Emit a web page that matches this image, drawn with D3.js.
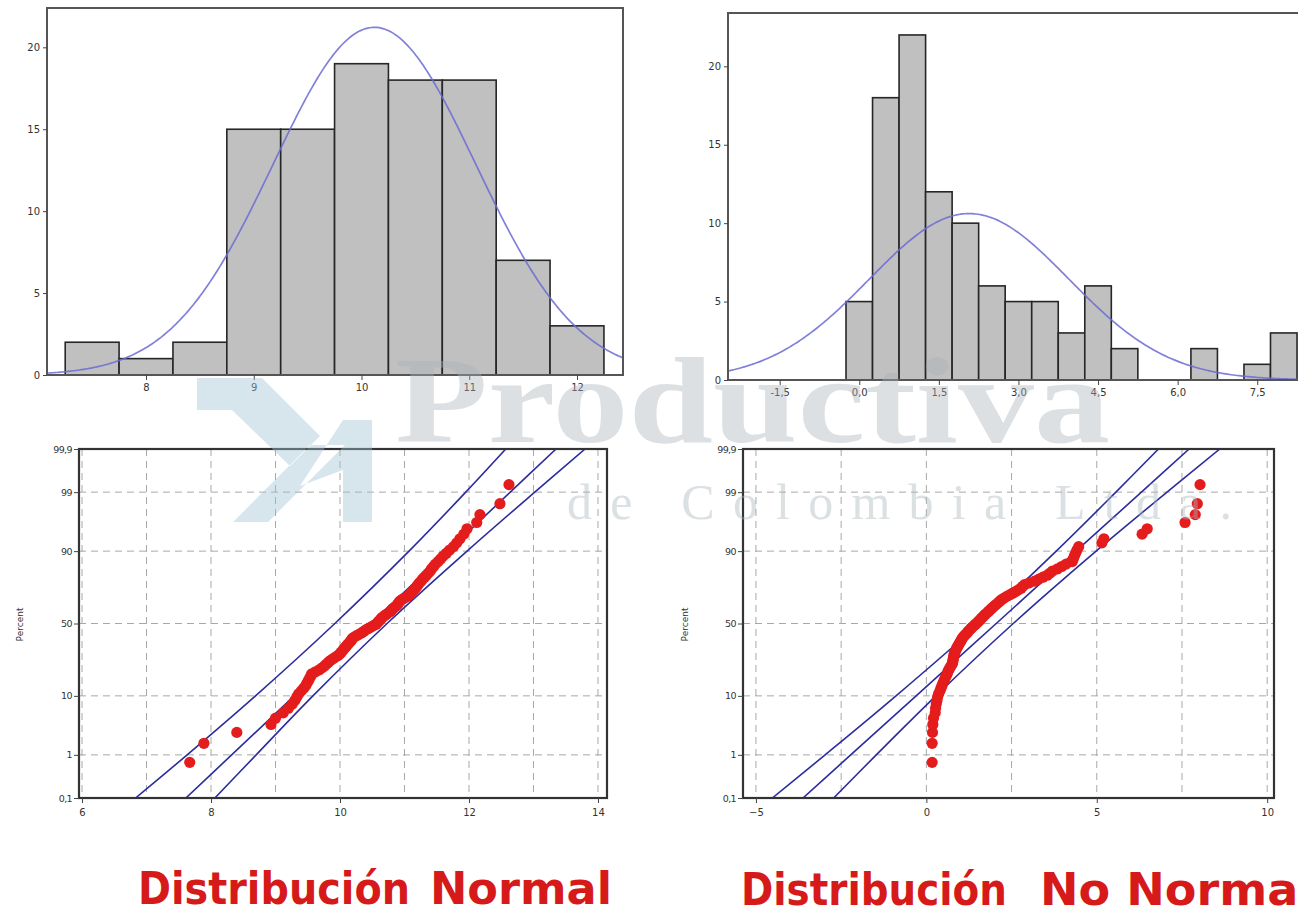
<!DOCTYPE html>
<html><head><meta charset="utf-8">
<script src="https://cdn.jsdelivr.net/npm/d3@7"></script>
<style>
body{margin:0;background:#fff}
svg{display:block}
</style>
</head><body>
<svg id="c" width="1298" height="915"></svg>
<script>
// ================= DATA =================
// Histogram 1 (normal)
const histNormalBins   = [7.5, 8.0, 8.5, 9.0, 9.5, 10.0, 10.5, 11.0, 11.5, 12.0];
const histNormalCounts = [2, 1, 2, 15, 15, 19, 18, 18, 7, 3];
const histNormalBinWidth = 0.5;
const histNormalFitMean = 10.12;
const histNormalFitSd = 0.94;
const histNormalXTicks = [8, 9, 10, 11, 12];
const histYTicks = [0, 5, 10, 15, 20];

// Histogram 2 (non normal)
const histSkewBins   = [0, 0.5, 1.0, 1.5, 2.0, 2.5, 3.0, 3.5, 4.0, 4.5, 5.0, 5.5, 6.0, 6.5, 7.0, 7.5, 8.0];
const histSkewCounts = [5, 18, 22, 12, 10, 6, 5, 5, 3, 6, 2, 0, 0, 2, 0, 1, 3];
const histSkewBinWidth = 0.5;
const histSkewFitMean = 2.07;
const histSkewFitSd = 1.88;
const histSkewXTicks = [-1.5, 0, 1.5, 3.0, 4.5, 6.0, 7.5];
const histSkewXLabels = ["-1,5", "0,0", "1,5", "3,0", "4,5", "6,0", "7,5"];

// Probability plots
const pctTicks  = [0.1, 1, 10, 50, 90, 99, 99.9];
const pctLabels = ["0,1", "1", "10", "50", "90", "99", "99,9"];
const bandPct   = [0.1, 1, 10, 50, 90, 99, 99.9];

const probNormalValues = [
  7.67, 7.89, 8.40, 8.93, 9.00, 9.12, 9.20, 9.26, 9.30, 9.33,
  9.36, 9.40, 9.44, 9.47, 9.49, 9.51, 9.53, 9.55, 9.56, 9.62,
  9.68, 9.72, 9.76, 9.79, 9.82, 9.85, 9.89, 9.93, 9.97, 10.00,
  10.02, 10.04, 10.06, 10.08, 10.10, 10.12, 10.14, 10.16, 10.18, 10.19,
  10.22, 10.26, 10.30, 10.34, 10.37, 10.40, 10.44, 10.48, 10.52, 10.56,
  10.58, 10.60, 10.62, 10.64, 10.66, 10.69, 10.72, 10.75, 10.78, 10.80,
  10.82, 10.85, 10.88, 10.90, 10.91, 10.93, 10.96, 11.00, 11.05, 11.08,
  11.10, 11.12, 11.15, 11.17, 11.19, 11.21, 11.23, 11.26, 11.28, 11.31,
  11.34, 11.37, 11.40, 11.42, 11.45, 11.48, 11.52, 11.56, 11.60, 11.65,
  11.70, 11.76, 11.81, 11.86, 11.92, 11.97, 12.12, 12.17, 12.48, 12.62
];
const probNormalFit   = [7.61, 8.32, 9.29, 10.48, 11.67, 12.64, 13.35];
const probNormalUpper = [6.83, 7.63, 8.69, 9.92, 11.07, 11.95, 12.57];
const probNormalLower = [8.06, 8.70, 9.58, 10.73, 11.97, 13.02, 13.80];
const probNormalXTicks = [6, 8, 10, 12, 14];
const probNormalXGrid  = [6, 7, 8, 9, 10, 11, 12, 13, 14];

const probSkewValues = [
  0.17, 0.17, 0.18, 0.19, 0.21, 0.26, 0.27, 0.29, 0.31, 0.33,
  0.36, 0.40, 0.43, 0.46, 0.49, 0.52, 0.55, 0.58, 0.61, 0.63,
  0.66, 0.69, 0.72, 0.76, 0.77, 0.78, 0.79, 0.80, 0.81, 0.82,
  0.84, 0.86, 0.88, 0.90, 0.93, 0.95, 0.98, 1.00, 1.03, 1.05,
  1.08, 1.12, 1.16, 1.20, 1.23, 1.27, 1.31, 1.35, 1.40, 1.44,
  1.49, 1.53, 1.57, 1.61, 1.65, 1.69, 1.73, 1.78, 1.82, 1.87,
  1.91, 1.96, 2.01, 2.06, 2.11, 2.16, 2.21, 2.28, 2.36, 2.45,
  2.53, 2.62, 2.70, 2.78, 2.82, 2.88, 3.02, 3.18, 3.30, 3.42,
  3.55, 3.63, 3.70, 3.85, 3.97, 4.10, 4.28, 4.31, 4.34, 4.38,
  4.42, 4.47, 5.15, 5.21, 6.33, 6.48, 7.59, 7.89, 7.95, 8.03
];
const probSkewFit   = [-3.62, -2.22, -0.30, 2.05, 4.39, 6.31, 7.71];
const probSkewUpper = [-4.52, -2.97, -0.89, 1.55, 3.81, 5.56, 6.81];
const probSkewLower = [-2.72, -1.47, 0.28, 2.55, 4.98, 7.06, 8.61];
const probSkewXTicks = [-5, 0, 5, 10];
const probSkewXGrid  = [-5, -2.5, 0, 2.5, 5, 7.5, 10];

const titleLeft  = ["Distribución", "Normal"];
const titleRight = ["Distribución", "No Normal"];

// ================= HELPERS =================
const svg = d3.select("#c");
const FONT = "'DejaVu Sans', Verdana, sans-serif";
let clipN = 0;

function probit(p) {
  const a = [-3.969683028665376e+01, 2.209460984245205e+02, -2.759285104469687e+02, 1.383577518672690e+02, -3.066479806614716e+01, 2.506628277459239e+00];
  const b = [-5.447609879822406e+01, 1.615858368580409e+02, -1.556989798598866e+02, 6.680131188771972e+01, -1.328068155288572e+01];
  const c = [-7.784894002430293e-03, -3.223964580411365e-01, -2.400758277161838e+00, -2.549732539343734e+00, 4.374664141464968e+00, 2.938163982698783e+00];
  const d = [7.784695709041462e-03, 3.224671290700398e-01, 2.445134137142996e+00, 3.754408661907416e+00];
  const pl = 0.02425, ph = 1 - pl;
  let q, r;
  if (p < pl) {
    q = Math.sqrt(-2 * Math.log(p));
    return (((((c[0]*q+c[1])*q+c[2])*q+c[3])*q+c[4])*q+c[5]) / ((((d[0]*q+d[1])*q+d[2])*q+d[3])*q+1);
  } else if (p <= ph) {
    q = p - 0.5; r = q*q;
    return (((((a[0]*r+a[1])*r+a[2])*r+a[3])*r+a[4])*r+a[5])*q / (((((b[0]*r+b[1])*r+b[2])*r+b[3])*r+b[4])*r+1);
  } else {
    q = Math.sqrt(-2 * Math.log(1 - p));
    return -(((((c[0]*q+c[1])*q+c[2])*q+c[3])*q+c[4])*q+c[5]) / ((((d[0]*q+d[1])*q+d[2])*q+d[3])*q+1);
  }
}

function styleAxis(g, size) {
  g.select(".domain").remove();
  g.selectAll(".tick line").attr("stroke", "#444").attr("stroke-width", 1);
  g.selectAll(".tick text").attr("fill", "#333").attr("font-size", size || 10).attr("font-family", FONT);
}

function addClip(x0, y0, w, h) {
  const id = "clip" + (clipN++);
  svg.append("clipPath").attr("id", id).append("rect").attr("x", x0).attr("y", y0).attr("width", w).attr("height", h);
  return "url(#" + id + ")";
}

function drawHistogram(o) {
  const x = d3.scaleLinear().domain(o.xDomain).range([o.left, o.right]);
  const y = d3.scaleLinear().domain(o.yDomain).range([o.bottom, o.top]);
  const g = svg.append("g");
  const clip = addClip(o.left, o.top, o.right - o.left, o.bottom - o.top);
  const bars = o.bins.map((c, i) => ({ c, n: o.counts[i] })).filter(d => d.n > 0);
  g.append("g").attr("clip-path", clip).selectAll("rect").data(bars).join("rect")
    .attr("x", d => x(d.c - o.binWidth / 2))
    .attr("width", d => x(d.c + o.binWidth / 2) - x(d.c - o.binWidth / 2))
    .attr("y", d => y(d.n))
    .attr("height", d => y(0) - y(d.n))
    .attr("fill", "#c0c0c0").attr("stroke", "#262626").attr("stroke-width", 1.6);
  const total = d3.sum(o.counts);
  const step = (o.xDomain[1] - o.xDomain[0]) / 300;
  const curve = d3.range(o.xDomain[0], o.xDomain[1] + step / 2, step).map(v =>
    [v, total * o.binWidth * Math.exp(-0.5 * Math.pow((v - o.mean) / o.sd, 2)) / (o.sd * Math.sqrt(2 * Math.PI))]);
  g.append("path").attr("clip-path", clip).datum(curve)
    .attr("d", d3.line().x(d => x(d[0])).y(d => y(d[1])))
    .attr("fill", "none").attr("stroke", "#6b6bd4").attr("stroke-width", 1.7).attr("stroke-opacity", 0.85);
  // frame
  g.append("rect").attr("x", o.left).attr("y", o.top).attr("width", o.right - o.left).attr("height", o.bottom - o.top)
    .attr("fill", "none").attr("stroke", "#555").attr("stroke-width", 2);
  const ax = g.append("g").attr("transform", `translate(0,${o.bottom})`)
    .call(d3.axisBottom(x).tickValues(o.xTicks).tickFormat((d, i) => o.xLabels[i]).tickSize(5).tickPadding(4));
  styleAxis(ax, 10);
  const ay = g.append("g").attr("transform", `translate(${o.left},0)`)
    .call(d3.axisLeft(y).tickValues(histYTicks).tickFormat(d3.format("d")).tickSize(4).tickPadding(3));
  styleAxis(ay, 10);
}

function drawProbPlot(o) {
  const x = d3.scaleLinear().domain(o.xDomain).range([o.left, o.right]);
  const zMin = probit(0.001), zMax = probit(0.999);
  const y = d3.scaleLinear().domain([zMin, zMax]).range([o.bottom, o.top]);
  const g = svg.append("g");
  const clip = addClip(o.left, o.top, o.right - o.left, o.bottom - o.top);
  // grid
  g.append("g").selectAll("line").data(o.xGrid).join("line")
    .attr("x1", d => x(d)).attr("x2", d => x(d)).attr("y1", o.top).attr("y2", o.bottom)
    .attr("stroke", "#a8a8a8").attr("stroke-width", 1).attr("stroke-dasharray", "7,5");
  g.append("g").selectAll("line").data(pctTicks.slice(1, -1)).join("line")
    .attr("x1", o.left).attr("x2", o.right).attr("y1", d => y(probit(d / 100))).attr("y2", d => y(probit(d / 100)))
    .attr("stroke", "#a8a8a8").attr("stroke-width", 1).attr("stroke-dasharray", "7,5");
  // fit and bands
  const ln = d3.line().x(d => x(d[1])).y(d => y(probit(d[0] / 100))).curve(d3.curveCatmullRom.alpha(0.5));
  [o.upper, o.fit, o.lower].forEach(arr => {
    g.append("path").attr("clip-path", clip).datum(bandPct.map((p, i) => [p, arr[i]]))
      .attr("d", ln).attr("fill", "none").attr("stroke", "#2c2c9e").attr("stroke-width", 1.6);
  });
  // points
  const n = o.values.length;
  g.append("g").attr("clip-path", clip).selectAll("circle").data(o.values).join("circle")
    .attr("cx", d => x(d))
    .attr("cy", (d, i) => y(probit((i + 1 - 0.3) / (n + 0.4))))
    .attr("r", 5.6).attr("fill", "#e51c1c");
  // frame
  g.append("rect").attr("x", o.left).attr("y", o.top).attr("width", o.right - o.left).attr("height", o.bottom - o.top)
    .attr("fill", "none").attr("stroke", "#333").attr("stroke-width", 2.2);
  const ax = g.append("g").attr("transform", `translate(0,${o.bottom})`)
    .call(d3.axisBottom(x).tickValues(o.xTicks).tickFormat(d3.format("d")).tickSize(5).tickPadding(6));
  styleAxis(ax, 10);
  const ay = g.append("g").attr("transform", `translate(${o.left},0)`)
    .call(d3.axisLeft(y).tickValues(pctTicks.map(p => probit(p / 100))).tickFormat((d, i) => pctLabels[i]).tickSize(5).tickPadding(2));
  styleAxis(ay, 9.5);
  ay.selectAll(".tick text").attr("letter-spacing", -0.6);
  g.append("text").attr("transform", `translate(${o.labelX},${(o.top + o.bottom) / 2 + 1}) rotate(-90)`)
    .attr("text-anchor", "middle").attr("font-family", FONT).attr("font-size", 9).attr("fill", "#333").text("Percent");
}

// ================= DRAW =================
drawHistogram({
  left: 47, right: 623, top: 8, bottom: 375,
  xDomain: [7.081, 12.427], yDomain: [0, 22.4],
  bins: histNormalBins, counts: histNormalCounts, binWidth: histNormalBinWidth,
  mean: histNormalFitMean, sd: histNormalFitSd,
  xTicks: histNormalXTicks, xLabels: histNormalXTicks.map(String)
});
drawHistogram({
  left: 728, right: 1300, top: 13, bottom: 380,
  xDomain: [-2.474, 8.306], yDomain: [0, 23.4],
  bins: histSkewBins, counts: histSkewCounts, binWidth: histSkewBinWidth,
  mean: histSkewFitMean, sd: histSkewFitSd,
  xTicks: histSkewXTicks, xLabels: histSkewXLabels
});
drawProbPlot({
  left: 79, right: 607, top: 449, bottom: 798, labelX: 23,
  xDomain: [5.953, 14.14],
  values: probNormalValues, fit: probNormalFit, upper: probNormalUpper, lower: probNormalLower,
  xTicks: probNormalXTicks, xGrid: probNormalXGrid
});
drawProbPlot({
  left: 743, right: 1274, top: 449, bottom: 798, labelX: 688,
  xDomain: [-5.38, 10.20],
  values: probSkewValues, fit: probSkewFit, upper: probSkewUpper, lower: probSkewLower,
  xTicks: probSkewXTicks, xGrid: probSkewXGrid
});

// watermark
const wm = svg.append("g").attr("pointer-events", "none");
wm.append("path")
  .attr("d", "M197,378 L262,378 L320,436 L290,466 L232,410 L197,410 Z M233,522 L268,522 L345,445 L310,445 Z M300,486 L343,420 L372,420 L372,522 L343,522 L343,470 Z")
  .attr("fill", "#9fc0d2").attr("opacity", 0.42);
wm.append("text").attr("x", 395).attr("y", 442)
  .attr("font-family", "'Liberation Serif', 'DejaVu Serif', serif").attr("font-weight", "bold").attr("font-size", 122)
  .attr("textLength", 715).attr("lengthAdjust", "spacingAndGlyphs")
  .attr("fill", "#aab2b8").attr("opacity", 0.4).text("Productiva");
wm.append("text").attr("x", 567).attr("y", 519)
  .attr("font-family", "'Liberation Serif', 'DejaVu Serif', serif").attr("font-size", 50)
  .attr("textLength", 665).attr("lengthAdjust", "spacing")
  .attr("fill", "#aab6be").attr("opacity", 0.42).text("de Colombia Ltda.");

// titles
function title(words, xs, widths, yBase) {
  words.forEach((w, i) => {
    svg.append("text").attr("x", xs[i]).attr("y", yBase)
      .attr("font-family", FONT).attr("font-weight", "bold").attr("font-size", 44)
      .attr("textLength", widths[i]).attr("lengthAdjust", "spacingAndGlyphs")
      .attr("fill", "#d61a1a").text(w);
  });
}
title(titleLeft, [138, 430], [272, 182], 904);
title(titleRight, [741, 1040], [266, 274], 905);
</script>
</body></html>
